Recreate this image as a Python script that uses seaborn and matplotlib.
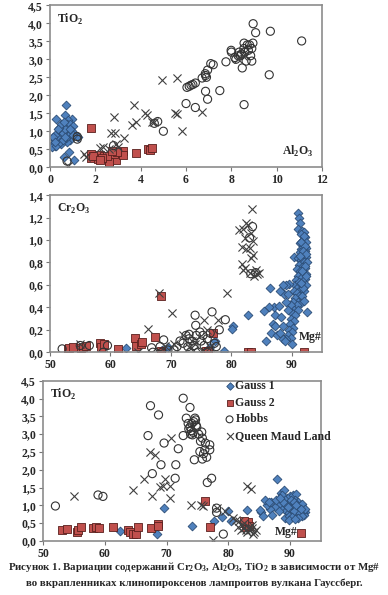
import numpy as np
import pandas as pd
import matplotlib
import matplotlib.pyplot as plt
import seaborn as sns
from matplotlib.ticker import FuncFormatter, MultipleLocator

matplotlib.use('Agg')

# ---- panel 1: Al2O3 vs TiO2 ----
g1_al = [0.7, 0.25, 0.65, 0.95, 0.8, 0.75, 0.6, 0.55, 0.5, 0.45, 0.4, 0.35, 0.3, 0.25, 0.2, 0.15, 0.2, 0.1,
         0.3, 0.4, 0.5, 0.6, 0.7, 0.8, 0.9, 1.0, 0.45, 0.55, 0.65, 0.35, 0.3, 0.2, 0.15, 0.4, 0.5, 0.6,
         1.2, 1.25, 0.85, 1.05, 0.6, 0.9, 0.75, 0.5, 0.25, 0.85, 0.95, 0.7, 0.35, 0.45, 0.55, 0.2, 1.0, 0.9, 0.65]
g1_ti = [1.72, 1.33, 1.45, 1.35, 1.3, 1.2, 1.15, 1.1, 1.05, 1.0, 0.95, 0.9, 0.85, 0.8, 0.75, 0.65, 0.6, 0.55,
         0.7, 0.75, 0.8, 0.9, 1.0, 1.1, 1.2, 1.15, 0.85, 0.95, 1.05, 0.8, 0.65, 0.9, 0.85, 1.1, 1.2, 1.25,
         0.88, 0.85, 0.42, 0.2, 0.27, 0.75, 0.7, 0.65, 0.6, 0.9, 1.0, 0.8, 1.05, 0.7, 0.75, 0.7, 0.9, 1.05, 0.85]
g2_al = [1.8, 1.8, 1.8, 2.0, 2.1, 2.2, 2.4, 2.5, 2.6, 2.7, 2.8, 2.9, 2.6, 2.8, 3.2, 3.2, 2.5, 2.3, 3.8,
         4.3, 4.4, 4.5, 1.9, 2.2, 2.95, 2.75]
g2_ti = [1.1, 0.38, 0.25, 0.3, 0.22, 0.35, 0.3, 0.25, 0.18, 0.35, 0.3, 0.2, 0.15, 0.38, 0.45, 0.35, 0.3, 0.25, 0.4,
         0.5, 0.48, 0.52, 0.3, 0.2, 0.42, 0.45]
hb_al = [8.96, 9.07, 9.72, 11.1, 8.56, 8.7, 8.9, 8.75, 8.6, 8.45, 8.3, 8.15, 8.0, 7.99, 8.2, 8.4, 8.55, 8.8,
         8.95, 8.85, 8.9, 8.48, 9.67, 8.56, 7.76, 7.09, 7.2, 6.95, 6.85, 6.86, 6.71, 6.9, 6.41, 6.3, 6.22,
         6.14, 6.04, 6.86, 7.49, 6.95, 6.0, 6.41, 1.2, 1.2, 0.75, 4.6, 4.75, 5.0, 2.8, 8.35, 8.65]
hb_ti = [3.99, 3.74, 3.78, 3.51, 3.45, 3.4, 3.3, 3.25, 3.2, 3.15, 3.1, 3.05, 3.2, 3.25, 3.0, 3.1, 3.3, 3.4,
         3.45, 3.1, 2.95, 2.76, 2.57, 1.74, 2.93, 2.88, 2.85, 2.7, 2.6, 2.55, 2.48, 2.5, 2.34, 2.3, 2.28,
         2.25, 2.22, 2.11, 2.13, 1.89, 1.77, 1.66, 0.85, 0.78, 0.17, 1.22, 1.27, 1.0, 0.6, 3.2, 2.95]
qm_al = [4.95, 5.59, 3.71, 4.19, 4.27, 3.78, 3.63, 4.5, 5.51, 5.62, 5.81, 6.71, 2.81, 2.7, 2.85, 3.26,
         2.2, 2.35, 2.9, 3.0, 1.49, 1.6, 0.78, 8.29, 8.5, 4.6, 2.6]
qm_ti = [2.42, 2.48, 1.74, 1.51, 1.45, 1.26, 1.18, 1.26, 1.52, 1.49, 1.01, 1.54, 1.4, 0.94, 0.94, 0.82,
         0.52, 0.55, 0.64, 0.55, 0.38, 0.28, 0.02, 3.02, 3.1, 1.25, 0.5]

# ---- panel 2: Mg# vs Cr2O3 ----
g1_mg2 = [91.0, 91.2, 91.3, 91.0, 91.7, 92.0, 91.5, 92.2, 91.8, 92.3, 91.4, 91.9, 92.4, 91.6, 92.1, 91.3,
          91.8, 92.3, 90.3, 91.0, 91.5, 92.0, 92.5, 91.2, 91.7, 92.2, 90.8, 91.4, 91.9, 92.4, 91.1, 91.6,
          92.1, 90.7, 91.3, 91.8, 92.3, 90.5, 89.5, 89.0, 91.0, 91.5, 92.0, 90.3, 90.8, 91.2, 88.7, 89.3,
          91.7, 90.6, 91.0, 90.2, 91.5, 90.8, 89.8, 90.4, 91.0, 90.1, 90.6, 89.9, 90.4, 89.7, 90.2, 89.5,
          90.0, 89.3, 89.8, 89.1, 88.5, 88.8, 90.1, 92.5, 86.4, 87.0, 86.2, 85.4, 87.2, 87.8, 88.2, 86.9,
          87.3, 88.5, 86.5, 87.6, 88.0, 85.7, 82.7, 80.2, 80.1, 78.7, 76.5, 77.3, 69.5, 62.5, 68.5, 88.0,
          88.5, 89.0, 89.4, 92.0, 91.6, 92.2, 91.9, 92.4, 91.4, 92.1, 91.7, 92.3, 91.2, 91.8, 92.0, 91.5]
g1_cr = [1.24, 1.2, 1.15, 1.1, 1.08, 1.07, 1.05, 1.03, 1.0, 0.98, 0.97, 0.95, 0.93, 0.92, 0.9, 0.89,
         0.87, 0.85, 0.85, 0.84, 0.82, 0.8, 0.8, 0.78, 0.76, 0.75, 0.74, 0.72, 0.7, 0.7, 0.68, 0.66,
         0.65, 0.64, 0.62, 0.6, 0.6, 0.6, 0.61, 0.6, 0.58, 0.56, 0.55, 0.55, 0.53, 0.5, 0.52, 0.52,
         0.5, 0.48, 0.45, 0.45, 0.44, 0.42, 0.42, 0.38, 0.38, 0.35, 0.33, 0.3, 0.28, 0.25, 0.22, 0.2,
         0.18, 0.15, 0.13, 0.12, 0.12, 0.1, 0.07, 0.36, 0.57, 0.4, 0.4, 0.37, 0.33, 0.41, 0.31, 0.25,
         0.23, 0.23, 0.17, 0.15, 0.17, 0.1, 0.33, 0.23, 0.21, 0.01, 0.05, 0.1, 0.05, 0.04, 0.02, 0.55,
         0.6, 0.45, 0.38, 1.04, 0.98, 0.95, 0.9, 0.88, 0.86, 0.77, 0.72, 0.68, 0.63, 0.57, 0.46, 0.62]
g2_mg2 = [52.9, 53.2, 53.8, 55.2, 55.5, 56.0, 58.2, 58.5, 59.0, 61.2, 64.0, 64.3, 65.0, 65.2, 67.4,
          68.3, 68.4, 75.8, 76.1, 77.0, 82.8, 83.2, 92.0]
g2_cr = [0.03, 0.04, 0.05, 0.04, 0.05, 0.06, 0.08, 0.05, 0.07, 0.03, 0.13, 0.06, 0.07, 0.09, 0.14,
         0.5, 0.01, 0.01, 0.01, 0.17, 0.0, 0.0, 0.0]
hb_mg2 = [52.0, 55.0, 56.5, 58.8, 59.5, 66.8, 67.0, 68.2, 68.8, 71.0, 72.0, 72.5, 73.0, 73.5, 73.8, 74.2,
          74.0, 74.1, 74.8, 75.0, 75.5, 76.0, 76.5, 76.8, 77.5, 78.0, 79.0, 72.8, 73.2, 74.5, 76.0, 71.5,
          70.5, 69.5, 75.3, 73.0, 77.2, 83.5, 83.0, 83.2, 84.0, 68.5]
hb_cr = [0.03, 0.06, 0.06, 0.0, 0.06, 0.04, 0.0, 0.05, 0.11, 0.05, 0.08, 0.15, 0.12, 0.1, 0.06, 0.15,
         0.33, 0.24, 0.18, 0.1, 0.06, 0.12, 0.17, 0.36, 0.05, 0.2, 0.29, 0.05, 0.0, 0.0, 0.0, 0.1,
         0.02, 0.02, 0.15, 0.16, 0.08, 1.12, 1.02, 0.7, 0.71, 0.0]
qm_mg2 = [83.4, 82.5, 82.8, 82.0, 81.2, 83.2, 82.3, 83.5, 81.8, 83.0, 82.5, 83.5, 81.8, 83.3, 82.2, 84.0,
          84.5, 84.2, 83.8, 82.0, 79.2, 68.0, 70.2, 66.2, 75.5, 77.8, 76.0, 55.0, 64.5, 73.5, 74.0, 75.0,
          72.0, 76.5, 70.5, 73.0, 69.0, 83.0]
qm_cr = [1.28, 1.15, 1.13, 1.1, 1.09, 1.06, 1.02, 0.99, 0.94, 0.93, 0.92, 0.87, 0.79, 0.84, 0.75, 0.73,
         0.71, 0.7, 0.68, 0.73, 0.53, 0.53, 0.35, 0.21, 0.29, 0.29, 0.2, 0.07, 0.0, 0.1, 0.07, 0.0,
         0.15, 0.05, 0.07, 0.05, 0.06, 0.71]

# ---- panel 3: Mg# vs TiO2 ----
g1_mg3 = [88.5, 89.0, 88.7, 89.5, 90.0, 90.5, 91.0, 90.8, 91.3, 91.7, 92.0, 92.2, 92.4, 92.1, 91.8, 91.5,
          91.0, 90.5, 90.0, 89.5, 89.0, 88.5, 88.0, 87.5, 86.8, 86.3, 86.0, 87.0, 89.2, 89.8, 90.3, 90.7,
          91.2, 91.5, 91.9, 92.3, 91.1, 90.6, 90.2, 89.7, 89.3, 88.8, 90.9, 91.4, 91.6, 90.4, 89.9, 92.0,
          91.3, 90.8, 88.2, 87.7, 88.3, 89.6, 90.1, 91.9, 92.5, 90.6, 91.0, 91.7,
          62.5, 68.5, 69.6, 74.2, 77.7, 79.0, 79.9, 80.4, 83.1, 85.3, 85.6, 86.6, 87.9, 87.1, 85.2]
g1_ti3 = [1.35, 1.43, 1.3, 1.2, 1.25, 1.3, 1.32, 1.15, 1.1, 1.0, 0.95, 0.88, 0.82, 0.78, 0.75, 0.72,
          0.7, 0.75, 0.8, 0.85, 0.9, 0.95, 1.0, 0.95, 0.9, 1.0, 1.15, 1.1, 0.65, 0.7, 0.9, 0.95,
          0.9, 0.85, 0.88, 0.72, 0.8, 0.85, 1.0, 1.05, 1.0, 1.1, 1.05, 0.95, 0.78, 0.68, 0.6, 0.7,
          0.65, 0.62, 0.85, 1.15, 1.2, 0.95, 1.15, 1.05, 0.9, 1.1, 1.0, 0.9,
          0.27, 0.2, 0.92, 0.42, 0.57, 0.68, 0.84, 0.55, 0.88, 0.82, 0.71, 1.1, 1.74, 0.73, 0.87]
g2_mg3 = [53.1, 53.8, 55.5, 55.7, 56.2, 58.1, 58.6, 59.1, 61.3, 63.8, 64.1, 64.5, 65.0, 65.3, 67.5,
          68.6, 68.6, 76.2, 77.1, 82.7, 83.0, 83.2, 82.9, 83.4, 82.6, 91.8]
g2_ti3 = [0.31, 0.33, 0.26, 0.31, 0.4, 0.36, 0.38, 0.37, 0.4, 0.31, 0.24, 0.2, 0.18, 0.4, 0.36,
          0.48, 0.42, 1.12, 0.4, 0.5, 0.45, 0.52, 0.4, 0.42, 0.55, 0.23]
hb_mg3 = [52.0, 67.4, 68.7, 67.0, 67.7, 69.1, 69.6, 71.5, 71.9, 71.4, 58.9, 59.7, 72.7, 73.8, 72.7, 73.2,
          74.1, 74.6, 74.9, 74.2, 75.7, 75.8, 76.3, 75.4, 75.8, 76.5, 77.0, 77.0, 76.2, 74.5, 77.3, 76.6,
          78.1, 78.1, 79.2, 73.5, 73.8, 74.0, 74.3, 74.8, 74.4, 73.6, 75.2, 73.9, 74.7, 75.5, 76.0]
hb_ti3 = [0.98, 3.8, 3.54, 2.96, 1.89, 2.14, 2.75, 2.14, 2.59, 1.76, 1.29, 1.25, 4.01, 3.75, 2.96, 3.45,
          3.3, 3.45, 3.2, 2.98, 3.06, 2.89, 2.75, 2.51, 2.3, 2.35, 2.7, 2.56, 2.56, 2.28, 1.76, 1.64,
          0.92, 0.8, 0.19, 3.3, 3.2, 3.1, 3.05, 3.25, 3.35, 3.15, 3.0, 3.0, 3.4, 2.8, 2.45]
qm_mg3 = [55.0, 64.6, 66.4, 67.4, 68.2, 67.7, 68.9, 69.5, 70.6, 69.8, 70.6, 70.7, 73.9, 75.9, 77.6, 78.1,
          83.1, 83.7, 81.8, 82.2, 82.5, 82.8, 83.0, 83.3, 83.6, 83.9, 84.2, 84.5, 82.0, 81.5, 82.6, 83.8,
          84.0, 81.2, 80.8, 79.5, 75.6, 74.8]
qm_ti3 = [1.25, 1.42, 1.74, 2.51, 2.42, 1.25, 1.51, 1.55, 1.53, 1.73, 1.2, 2.89, 1.01, 0.97, 0.03, 0.92,
          1.53, 1.45, 0.55, 0.45, 0.35, 0.3, 0.25, 0.4, 0.3, 0.35, 0.25, 0.3, 0.3, 0.4, 0.5, 0.45,
          0.2, 0.6, 0.65, 0.85, 1.01, 3.1]

groups = ['Gauss 1', 'Gauss 2', 'Hobbs', 'Queen Maud Land']

sns.set_style('white')
plt.rcParams['font.family'] = ['Liberation Serif', 'DejaVu Serif']
plt.rcParams['font.weight'] = 'bold'
plt.rcParams['mathtext.fontset'] = 'custom'
plt.rcParams['mathtext.rm'] = 'Liberation Serif:bold'

styles = {
    'Gauss 1': dict(marker='D', s=20, color='#4F81BD', edgecolor='#2C4D75', linewidth=0.6),
    'Gauss 2': dict(marker='s', s=34, color='#C0504D', edgecolor='#5A1F1D', linewidth=0.6),
    'Hobbs': dict(marker='o', s=34, facecolor='none', edgecolor='#333333', linewidth=0.8),
    'Queen Maud Land': dict(marker='x', s=34, color='#404040', linewidth=0.8),
}


def comma(v, pos):
    return f"{v:.1f}".replace('.', ',')


def draw(ax, sets, xlim, ylim, xstep, ystep, ylab, xlab, xlab_pos, legend=False):
    for name, (xs, ys) in zip(groups, sets):
        df = pd.DataFrame({'x': xs, 'y': ys})
        sns.scatterplot(data=df, x='x', y='y', ax=ax, label=name, legend=False, **styles[name])
    ax.set_xlim(*xlim)
    ax.set_ylim(*ylim)
    ax.xaxis.set_major_locator(MultipleLocator(xstep))
    ax.yaxis.set_major_locator(MultipleLocator(ystep))
    ax.yaxis.set_major_formatter(FuncFormatter(comma))
    ax.set_xlabel('')
    ax.set_ylabel('')
    ax.tick_params(labelsize=8.5, length=3, width=0.8, color='#777777', direction='out',
                   bottom=True, left=True, pad=2)
    for s in ax.spines.values():
        s.set_color('#8c8c8c')
        s.set_linewidth(1.2)
    ax.text(0.025, 0.96, ylab, transform=ax.transAxes, fontsize=8.5, va='top', ha='left')
    ax.text(xlab_pos[0], xlab_pos[1], xlab, transform=ax.transAxes, fontsize=8.5, va='bottom', ha='right')
    if legend:
        ax.legend(loc='upper left', bbox_to_anchor=(0.65, 1.005), frameon=False, fontsize=8.5,
                  handletextpad=0.0, borderaxespad=0.0, borderpad=0.0, labelspacing=0.4,
                  handlelength=1.0, markerscale=0.85)


fig = plt.figure(figsize=(3.88, 5.95), dpi=100)

ax1 = fig.add_axes([0.129, 0.719, 0.701, 0.272])
draw(ax1, [(g1_al, g1_ti), (g2_al, g2_ti), (hb_al, hb_ti), (qm_al, qm_ti)],
     (0, 12), (0, 4.5), 2, 0.5, r'TiO$_{\rm 2}$', r'Al$_{\rm 2}$O$_{\rm 3}$', (0.97, 0.05))
ax1.xaxis.set_major_formatter(FuncFormatter(lambda v, p: f"{v:.0f}"))

ax2 = fig.add_axes([0.129, 0.408, 0.701, 0.264])
draw(ax2, [(g1_mg2, g1_cr), (g2_mg2, g2_cr), (hb_mg2, hb_cr), (qm_mg2, qm_cr)],
     (50, 95), (0, 1.4), 10, 0.2, r'Cr$_{\rm 2}$O$_{\rm 3}$', 'Mg#', (1.0, 0.06))

ax3 = fig.add_axes([0.111, 0.091, 0.716, 0.269])
draw(ax3, [(g1_mg3, g1_ti3), (g2_mg3, g2_ti3), (hb_mg3, hb_ti3), (qm_mg3, qm_ti3)],
     (50, 95), (0, 4.5), 10, 0.5, r'TiO$_{\rm 2}$', 'Mg#', (0.915, 0.02), legend=True)

fig.text(0.5, 0.047, r'Рисунок 1. Вариации содержаний Cr$_{\rm 2}$O$_{\rm 3}$, Al$_{\rm 2}$O$_{\rm 3}$, '
         r'TiO$_{\rm 2}$ в зависимости от Mg#', ha='center', va='center', fontsize=7.8)
fig.text(0.5, 0.019, 'во вкрапленниках клинопироксенов лампроитов вулкана Гауссберг.',
         ha='center', va='center', fontsize=7.8)

fig.savefig('out.png', dpi=100)
